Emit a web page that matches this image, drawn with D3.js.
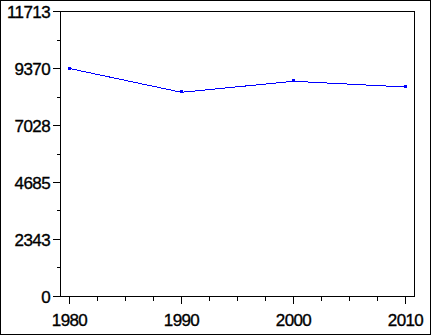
<!DOCTYPE html>
<html>
<head>
<meta charset="utf-8">
<script src="https://cdn.jsdelivr.net/npm/d3@7"></script>
<style>
  html, body { margin: 0; padding: 0; background: #fff; }
  svg { display: block; }
</style>
</head>
<body>
<div id="chart"></div>
<script>
// data
const years = [1980, 1990, 2000, 2010];
const values = [9370, 8392, 8845, 8610];
const yTickValues = [0, 2343, 4685, 7028, 9370, 11713];
const xTickValues = [1980, 1990, 2000, 2010];

const width = 432;
const height = 336;
const yMax = 11713;

const svg = d3.select('#chart')
  .append('svg')
  .attr('width', width)
  .attr('height', height)
  .style('font-family', '"Liberation Sans", Arial, sans-serif');

// outer border
svg.append('rect')
  .attr('x', 0.5).attr('y', 0.5)
  .attr('width', 430).attr('height', 334)
  .attr('fill', '#fff')
  .attr('stroke', '#000')
  .attr('shape-rendering', 'crispEdges');

// plot frame
const plotLeft = 60.5, plotRight = 414.5, plotTop = 11.5, plotBottom = 296.5;

const x = d3.scaleLinear().domain([1980, 2010]).range([69.5, 405.5]);
const y = d3.scaleLinear().domain([0, yMax]).range([plotBottom, plotTop]);

svg.append('rect')
  .attr('x', plotLeft).attr('y', plotTop)
  .attr('width', plotRight - plotLeft).attr('height', plotBottom - plotTop)
  .attr('fill', 'none')
  .attr('stroke', '#000')
  .attr('shape-rendering', 'crispEdges');

// tick label style
function labelStyle(sel) {
  sel.style('font-size', '17px')
    .style('letter-spacing', '-0.6px')
    .attr('fill', '#000')
    .attr('stroke', '#000')
    .attr('stroke-width', 0.35);
}

// y axis: major + minor ticks
const yMinor = d3.range(0, yTickValues.length - 1).map(i => (yTickValues[i] + yTickValues[i + 1]) / 2);
const yAxis = svg.append('g').attr('shape-rendering', 'crispEdges');
yAxis.selectAll('line.major')
  .data(yTickValues)
  .join('line')
  .attr('class', 'major')
  .attr('x1', plotLeft - 8).attr('x2', plotLeft)
  .attr('y1', d => Math.round(y(d) - 0.5) + 0.5)
  .attr('y2', d => Math.round(y(d) - 0.5) + 0.5)
  .attr('stroke', '#000');
yAxis.selectAll('line.minor')
  .data(yMinor)
  .join('line')
  .attr('class', 'minor')
  .attr('x1', plotLeft - 4).attr('x2', plotLeft)
  .attr('y1', d => Math.round(y(d) - 0.5) + 0.5)
  .attr('y2', d => Math.round(y(d) - 0.5) + 0.5)
  .attr('stroke', '#000');
yAxis.selectAll('text')
  .data(yTickValues)
  .join('text')
  .attr('x', 50)
  .attr('y', d => y(d))
  .attr('dy', '0.36em')
  .attr('text-anchor', 'end')
  .call(labelStyle)
  .text(d => d);

// x axis: major + minor ticks
const xMinor = [];
for (let i = 0; i < xTickValues.length - 1; i++) {
  const step = (xTickValues[i + 1] - xTickValues[i]) / 4;
  for (let k = 1; k < 4; k++) xMinor.push(xTickValues[i] + k * step);
}
const xAxis = svg.append('g').attr('shape-rendering', 'crispEdges');
xAxis.selectAll('line.major')
  .data(xTickValues)
  .join('line')
  .attr('class', 'major')
  .attr('x1', d => Math.round(x(d) - 0.5) + 0.5)
  .attr('x2', d => Math.round(x(d) - 0.5) + 0.5)
  .attr('y1', plotBottom).attr('y2', plotBottom + 7)
  .attr('stroke', '#000');
xAxis.selectAll('line.minor')
  .data(xMinor)
  .join('line')
  .attr('class', 'minor')
  .attr('x1', d => Math.round(x(d) - 0.5) + 0.5)
  .attr('x2', d => Math.round(x(d) - 0.5) + 0.5)
  .attr('y1', plotBottom).attr('y2', plotBottom + 4)
  .attr('stroke', '#000');
xAxis.selectAll('text')
  .data(xTickValues)
  .join('text')
  .attr('x', d => x(d))
  .attr('y', 326)
  .attr('text-anchor', 'middle')
  .call(labelStyle)
  .text(d => d);

// series line
const line = d3.line()
  .x((d, i) => x(years[i]))
  .y(d => y(d));

svg.append('path')
  .datum(values)
  .attr('d', line)
  .attr('fill', 'none')
  .attr('stroke', '#0000ff')
  .attr('stroke-width', 1)
  .attr('shape-rendering', 'crispEdges');

svg.append('g')
  .selectAll('rect')
  .data(values)
  .join('rect')
  .attr('x', (d, i) => Math.round(x(years[i])) - 2)
  .attr('y', d => Math.round(y(d)) - 2)
  .attr('width', 3)
  .attr('height', 3)
  .attr('fill', '#0000ff')
  .attr('shape-rendering', 'crispEdges');
</script>
</body>
</html>
